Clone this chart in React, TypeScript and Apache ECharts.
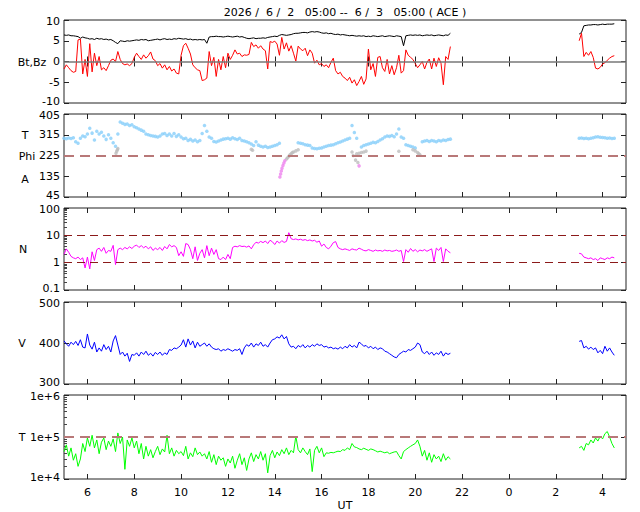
import React, { useEffect, useRef } from "react";
import * as echarts from "echarts";

const TITLE = "2026 /  6 /  2   05:00 --  6 /  3   05:00 ( ACE )";
const FONT = "DejaVu Sans";
const STEP = 0.1;
const SEG1_START = 5.0;
const SEG2_START = 27.0;
const X_MIN = 5;
const X_MAX = 29;
const X_TICKS = [6, 8, 10, 12, 14, 16, 18, 20, 22, 24, 26, 28];

const PHI_TICKS = [45, 135, 225, 315, 405];
const N_MINOR = [0.2, 0.3, 0.4, 0.5, 0.6, 0.7, 0.8, 0.9, 2, 3, 4, 5, 6, 7, 8, 9, 20, 30, 40, 50, 60, 70, 80, 90];
const T_MINOR = [20000, 30000, 40000, 50000, 60000, 70000, 80000, 90000, 200000, 300000, 400000, 500000, 600000, 700000, 800000, 900000];

const PHI_REF = [225];
const N_REF = [10, 1];
const T_REF = [100000];

const BZ_1 = [
  -1.8, -0.8, -1.5, -2.2, -2.6, -2.4, 5.2, 5.4, -3.0, 0.5,
  -3.6, 4.3, -2.5, 2.0, -1.0, 1.2, -2.0, -1.5, -2.2, -1.0,
  0.3, 0.6, 0.0, 2.4, 0.5, -0.5, -0.8, -0.6, -1.0, -0.5,
  1.0, 2.0, 1.2, 0.5, 1.6, 0.8, 1.4, 2.3, 0.6, 0.2,
  -1.0, -0.5, -1.6, -0.8, -2.0, -1.2, -2.3, -1.8, -2.8, -3.0,
  1.5, 3.8, 4.4, 3.2, 1.8, -0.8, -1.5, -2.0, -2.2, -4.6,
  -4.4, -4.0, 2.4, -1.0, 1.0, -3.6, 0.5, -2.0, 1.2, -1.5,
  2.0, 0.5, 1.5, 2.8, 1.8, 2.0, 1.2, 1.6, 1.5, 1.7,
  4.6, 3.6, 4.0, 3.2, 3.8, 3.0, 2.6, -1.8, 4.8, 4.6,
  4.9, 4.2, 1.5, 5.8, 3.0, 4.5, 2.5, 3.8, 2.0, 0.1,
  3.7, 3.0, 2.6, 3.2, 1.4, 2.8, 2.0, -0.4, 0.3, -0.8,
  -0.5, -1.2, -0.8, -1.5, -0.2, 0.8, -2.2, -3.0, -2.6, -3.6,
  -4.0, -4.6, -3.8, -5.2, -4.4, -5.8, -4.8, -3.6, -5.5, -4.2,
  3.0, -2.0, -0.5, -3.6, 1.0, 1.2, -1.5, -2.4, 0.5, -3.0,
  -1.0, -3.2, -1.5, 1.5, -2.8, -2.2, 2.8, 1.5, 1.0, 0.5,
  -0.5, -1.5, -0.8, 0.0, -1.8, -0.2, 0.6, -1.8, 0.8, -1.2,
  0.9, -0.4, -5.6, 1.2, 0.5, 3.6,
];
const BZ_2 = [5.0, 6.8, 1.2, 2.2, 1.5, 2.4, 1.0, -1.6, -1.8, -1.4, -0.6, -0.3, 0.3, 0.8, 1.2, 1.4];

const BT_1 = [
  6.4, 6.3, 6.4, 6.2, 6.2, 6.1, 6.0, 5.6, 5.9, 5.7,
  5.6, 5.4, 5.5, 5.3, 5.6, 5.4, 5.5, 5.3, 5.4, 5.2,
  5.3, 5.0, 4.6, 4.3, 5.0, 4.9, 4.8, 5.0, 4.9, 5.0,
  5.1, 5.2, 5.1, 5.3, 5.2, 5.3, 5.0, 5.1, 5.2, 5.3,
  5.4, 5.2, 5.4, 5.5, 5.3, 5.4, 5.3, 5.5, 5.4, 5.6,
  5.5, 5.4, 5.5, 5.3, 5.4, 5.2, 5.3, 5.2, 5.3, 5.2,
  5.3, 4.4, 5.9, 6.0, 6.0, 6.1, 6.0, 6.0, 5.9, 6.0,
  6.1, 6.0, 5.9, 6.0, 6.1, 5.9, 6.0, 5.8, 5.6, 5.5,
  5.6, 5.7, 5.5, 5.6, 5.6, 5.7, 5.6, 5.8, 5.9, 6.0,
  6.1, 6.0, 6.3, 6.5, 6.4, 6.3, 6.4, 6.5, 6.7, 6.8,
  6.8, 6.9, 7.0, 7.0, 6.9, 7.1, 7.2, 7.1, 7.2, 7.1,
  6.9, 6.8, 6.9, 6.7, 6.8, 6.6, 6.5, 6.6, 6.4, 6.5,
  6.4, 6.3, 6.2, 6.3, 6.2, 6.1, 6.2, 6.1, 6.2, 6.0,
  6.1, 6.0, 6.2, 6.1, 6.0, 6.1, 6.2, 6.0, 6.1, 6.2,
  6.1, 6.0, 6.2, 6.1, 6.0, 3.8, 6.2, 6.3, 6.4, 6.3,
  6.4, 6.3, 6.4, 6.2, 6.3, 6.4, 6.3, 6.4, 6.2, 6.3,
  6.4, 6.3, 6.2, 6.4, 6.3, 6.8,
];
const BT_2 = [6.6, 7.0, 8.6, 8.7, 8.8, 8.8, 8.9, 8.9, 8.8, 8.9, 9.0, 8.9, 9.0, 9.0, 9.0, 9.1];

const PHI_BLUE_1 = [
  300, 298, 301, 299, 302, 285, 278, 300, 310, 306,
  318, 343, 322, 292, 330, 318, 326, 310, 295, 315,
  300, 280, 265, 318, 370, 365, 360, 362, 355, 358,
  350, 345, 340, 335, 330, 318, 315, 312, 310, 308,
  305, 310, 318, 320, 312, 318, 310, 320, 308, 315,
  305, 298, 300, 290, 295, 288, 292, 285, 290, 320,
  355, 330, 305, 300, 286, 284, 288, 292, 296, 298,
  300, 296, 302, 298, 294, 300, 290, 288, 285, 280,
  275, 268, 285, 270, 265, 262, 265, 260, 262, 265,
  268, 272, 278, null, null, null, null, null, null, null,
  280, 278, 276, 272, 270, 268, 258, 255, 254, 256,
  258, 262, 265, 268, 270, 272, 276, 280, 284, 288,
  292, 296, 300, 355, 325, 300, null, 262, 268, 272,
  275, 278, 282, 280, 286, 292, 298, 305, 310, 308,
  312, 306, 318, 340, 305, 300, 272, 268, 265, 262,
  258, null, null, 285, 288, 290, 286, 290, 288, 285,
  290, 288, 292, 290, 294, 296,
];
const PHI_BLUE_2 = [300, 301, 299, 300, 298, 300, 302, 305, 306, 304, 303, 302, 300, 301, 299, 300];
const PHI_GRAY_T = [7.22, 7.25, 7.28, 7.3, 13.0, 13.05, 14.5, 14.55, 14.6, 14.65, 14.7, 14.75, 14.8, 14.9, 15.0, 17.3, 17.35, 17.45, 17.5, 17.55, 17.6, 17.7, 17.8, 17.9, 19.3, 19.9, 20.0, 20.1, 20.15, 20.2];
const PHI_GRAY_V = [235, 243, 250, 255, 252, 248, 210, 215, 222, 228, 232, 238, 240, 245, 250, 240, 225, 205, 232, 195, 235, 238, 240, 244, 243, 250, 245, 238, 232, 228];
const PHI_PINK_T = [14.22, 14.25, 14.28, 14.31, 14.35, 14.39, 14.43, 17.6];
const PHI_PINK_V = [132, 145, 158, 170, 182, 192, 202, 180];

const N_1 = [
  2.0, 3.2, 2.4, 1.7, 1.5, 1.4, 1.6, 1.3, 1.5, 0.64,
  1.6, 0.59, 2.5, 1.2, 3.0, 3.4, 2.6, 3.6, 2.2, 2.8,
  2.6, 4.3, 0.85, 3.0, 3.4, 3.0, 3.6, 3.2, 3.8, 3.3,
  4.0, 4.4, 3.6, 4.2, 3.5, 4.0, 3.2, 3.8, 2.8, 3.4,
  3.0, 3.6, 2.8, 3.9, 3.2, 4.6, 3.8, 4.2, 3.6, 1.8,
  2.5, 1.7, 5.0, 4.6, 3.0, 1.4, 3.8, 1.2, 2.2, 3.0,
  1.5, 4.2, 1.8, 3.4, 2.0, 3.0, 1.4, 1.3, 1.6, 1.3,
  2.0, 1.4, 3.6, 4.0, 3.8, 4.2, 3.9, 4.0, 3.7, 4.1,
  3.2, 4.5, 5.6, 5.2, 6.0, 5.4, 6.2, 5.0, 6.6, 5.8,
  4.6, 6.2, 5.2, 6.4, 5.5, 6.0, 12.5, 7.5, 7.0, 7.4,
  6.8, 7.2, 6.6, 7.0, 6.4, 6.8, 6.2, 6.6, 5.6, 6.2,
  4.0, 4.8, 3.6, 3.2, 4.0, 5.4, 5.9, 3.6, 3.2, 3.0,
  3.2, 3.0, 2.8, 3.2, 3.0, 2.9, 3.4, 3.1, 2.8, 2.7,
  3.0, 2.8, 2.6, 2.9, 2.7, 2.8, 2.6, 2.9, 2.7, 2.8,
  2.6, 2.7, 2.9, 2.6, 2.8, 1.1, 3.0, 2.4, 3.3, 2.6,
  3.0, 2.5, 2.9, 2.7, 3.0, 2.6, 2.9, 3.2, 1.1, 3.4,
  2.8, 3.6, 1.1, 3.2, 2.6, 2.3,
];
const N_2 = [2.2, 2.1, 1.6, 1.5, 1.4, 1.5, 1.3, 1.4, 1.2, 1.5, 1.4, 1.3, 1.5, 1.4, 1.6, 1.5];

const V_1 = [
  405, 398, 392, 402, 396, 404, 394, 408, 390, 388,
  422, 395, 385, 402, 378, 388, 380, 396, 384, 392,
  378, 405, 418, 395, 372, 378, 368, 375, 355, 372,
  370, 376, 368, 378, 372, 380, 370, 375, 368, 377,
  372, 378, 370, 376, 372, 384, 382, 388, 386, 390,
  395, 408, 390, 410, 395, 405, 388, 402, 392, 396,
  400, 392, 398, 390, 386, 384, 386, 380, 384, 382,
  386, 383, 380, 384, 382, 386, 372, 388, 396, 392,
  400, 390, 398, 394, 402, 392, 396, 390, 400, 408,
  410, 415, 412, 420, 410, 416, 398, 390, 392, 386,
  394, 390, 396, 388, 394, 390, 396, 392, 398, 394,
  396, 390, 392, 388, 390, 386, 388, 385, 390, 386,
  392, 388, 396, 390, 394, 388, 402, 398, 392, 394,
  388, 392, 386, 390, 384, 388, 386, 380, 378, 374,
  370, 366, 364, 372, 376, 380, 378, 384, 382, 386,
  390, 400, 396, 378, 374, 380, 372, 378, 370, 376,
  372, 380, 368, 376, 372, 375,
];
const V_2 = [404, 406, 388, 392, 385, 390, 384, 388, 376, 382, 374, 392, 380, 388, 378, 370];

const T_1 = [
  45000, 65000, 35000, 55000, 28000, 40000, 20000, 30000, 70000, 45000,
  95000, 60000, 110000, 55000, 85000, 40000, 75000, 95000, 50000, 80000,
  60000, 90000, 45000, 125000, 70000, 100000, 17000, 85000, 60000, 95000,
  55000, 80000, 40000, 70000, 30000, 60000, 35000, 50000, 32000, 45000,
  60000, 38000, 52000, 44000, 110000, 40000, 55000, 35000, 48000, 40000,
  45000, 36000, 60000, 30000, 42000, 34000, 55000, 38000, 44000, 35000,
  40000, 30000, 45000, 25000, 38000, 22000, 35000, 28000, 32000, 20000,
  30000, 24000, 35000, 18000, 28000, 40000, 22000, 32000, 16000, 30000,
  42000, 26000, 38000, 30000, 45000, 28000, 40000, 14000, 36000, 48000,
  32000, 44000, 36000, 50000, 40000, 55000, 38000, 48000, 42000, 105000,
  50000, 42000, 55000, 45000, 38000, 52000, 15000, 48000, 60000, 42000,
  55000, 34000, 42000, 41000, 43000, 42000, 44000, 46000, 45000, 50000,
  48000, 55000, 50000, 70000, 58000, 56000, 52000, 50000, 54000, 51000,
  48000, 52000, 50000, 47000, 44000, 46000, 44000, 42000, 44000, 40000,
  42000, 44000, 45000, 36000, 30000, 45000, 50000, 55000, 60000, 65000,
  70000, 85000, 60000, 35000, 48000, 28000, 42000, 25000, 38000, 30000,
  35000, 26000, 40000, 28000, 34000, 30000,
];
const T_2 = [55000, 60000, 48000, 70000, 65000, 85000, 72000, 95000, 80000, 105000, 90000, 120000, 135000, 100000, 70000, 55000];

function seg(start: number, vals: (number | null)[]) {
  const out: [number, number][] = [];
  vals.forEach((v, i) => {
    if (v !== null) out.push([Math.round((start + i * STEP) * 100) / 100, v]);
  });
  return out;
}
function pairs(ts: number[], vs: number[]) {
  return ts.map((t, i) => [t, vs[i]]);
}

const GRIDS = [
  { top: 20, height: 83 },
  { top: 114, height: 83 },
  { top: 208, height: 82 },
  { top: 302, height: 82 },
  { top: 395, height: 84 },
];

const labelStyle = { color: "#000", fontSize: 11, fontFamily: FONT };

function fmtNum(v: number) {
  return String(Number(v.toPrecision(6)));
}
function fmtExp(v: number) {
  return "1e+" + Math.round(Math.log10(v));
}
function edgeFmt(base: (v: number) => string, min: number, max: number) {
  return (v: number) => {
    const s = base(v);
    if (Math.abs(v - max) <= Math.abs(max) * 1e-6) return `{hi|${s}}`;
    if (Math.abs(v - min) <= Math.abs(min) * 1e-6) return `{lo|${s}}`;
    return s;
  };
}
const edgeRich = {
  hi: { padding: [3, 0, 0, 0], ...labelStyle },
  lo: { padding: [0, 0, 3, 0], ...labelStyle },
};

function buildOption() {
  const grid = GRIDS.map((g) => ({
    left: 64,
    right: 14,
    top: g.top,
    height: g.height,
    show: true,
    borderColor: "#222",
    borderWidth: 1,
  }));

  const xAxis: any[] = [];
  GRIDS.forEach((_, i) => {
    xAxis.push({
      type: "value",
      gridIndex: i,
      min: X_MIN,
      max: X_MAX,
      position: "bottom",
      axisLine: { show: false },
      axisTick: { show: true, inside: true, length: 5, customValues: X_TICKS, lineStyle: { color: "#222" } },
      axisLabel: {
        show: i === 4,
        customValues: X_TICKS,
        formatter: (v: number) => String(Math.round(v) % 24),
        margin: 8,
        ...labelStyle,
      },
      splitLine: { show: false },
    });
  });
  GRIDS.forEach((_, i) => {
    xAxis.push({
      type: "value",
      gridIndex: i,
      min: X_MIN,
      max: X_MAX,
      position: "top",
      axisLine: { show: false },
      axisTick: { show: true, inside: true, length: 5, customValues: X_TICKS, lineStyle: { color: "#222" } },
      axisLabel: { show: false },
      splitLine: { show: false },
    });
  });

  const ySpecs: any[] = [
    { type: "value", min: -10, max: 10, interval: 5, fmt: fmtNum },
    { type: "value", min: 45, max: 405, fmt: fmtNum, axisLabel: { customValues: PHI_TICKS }, axisTick: { customValues: PHI_TICKS } },
    { type: "log", logBase: 10, min: 0.1, max: 100, fmt: fmtNum },
    { type: "value", min: 300, max: 500, interval: 100, fmt: fmtNum },
    { type: "log", logBase: 10, min: 10000, max: 1000000, fmt: fmtExp },
  ];
  const yAxis: any[] = [];
  ySpecs.forEach((s, i) => {
    yAxis.push({
      type: s.type,
      logBase: s.logBase,
      gridIndex: i,
      min: s.min,
      max: s.max,
      interval: s.interval,
      position: "left",
      axisLine: { show: false },
      axisTick: { show: true, inside: true, length: 5, lineStyle: { color: "#222" }, ...(s.axisTick || {}) },
      axisLabel: {
        show: true,
        margin: 4,
        ...labelStyle,
        ...(s.axisLabel || {}),
        formatter: edgeFmt(s.fmt, s.min, s.max),
        rich: edgeRich,
      },
      splitLine: { show: false },
      minorTick: { show: false },
    });
  });
  ySpecs.forEach((s, i) => {
    yAxis.push({
      type: s.type,
      logBase: s.logBase,
      gridIndex: i,
      min: s.min,
      max: s.max,
      interval: s.interval,
      position: "right",
      axisLine: { show: false },
      axisTick: { show: true, inside: true, length: 5, lineStyle: { color: "#222" }, ...(s.axisTick || {}) },
      axisLabel: { show: false },
      splitLine: { show: false },
    });
  });
  [
    { g: 2, min: 0.1, max: 100, vals: N_MINOR },
    { g: 4, min: 10000, max: 1000000, vals: T_MINOR },
  ].forEach((m) => {
    yAxis.push({
      type: "log",
      logBase: 10,
      gridIndex: m.g,
      min: m.min,
      max: m.max,
      position: "left",
      axisLine: { show: false },
      axisTick: { show: true, inside: true, length: 3, customValues: m.vals, lineStyle: { color: "#444" } },
      axisLabel: { show: false },
      splitLine: { show: false },
    });
  });

  const line = (g: number, data: any[], color: string, extra: any = {}) => ({
    type: "line",
    xAxisIndex: g,
    yAxisIndex: g,
    data,
    showSymbol: false,
    symbol: "none",
    lineStyle: { color, width: 1 },
    itemStyle: { color },
    ...extra,
  });
  const scatter = (g: number, data: any[], color: string, extra: any = {}) => ({
    type: "scatter",
    xAxisIndex: g,
    yAxisIndex: g,
    data,
    symbolSize: 3.5,
    itemStyle: { color },
    ...extra,
  });
  const refLines = (vals: number[], color: string, width: number, dash: number[]) => ({
    silent: true,
    symbol: "none",
    label: { show: false },
    lineStyle: { color, width, type: dash },
    data: vals.map((v) => ({ yAxis: v })),
  });

  const series: any[] = [
    line(0, seg(SEG1_START, BT_1), "#000000", {
      markLine: { silent: true, symbol: "none", label: { show: false }, lineStyle: { color: "#777", width: 1.6, type: "solid" }, data: [{ yAxis: 0 }] },
    }),
    line(0, seg(SEG2_START, BT_2), "#000000"),
    line(0, seg(SEG1_START, BZ_1), "#ff0000", { z: 3 }),
    line(0, seg(SEG2_START, BZ_2), "#ff0000", { z: 3 }),

    scatter(1, seg(SEG1_START, PHI_BLUE_1), "#87cefa", { markLine: refLines(PHI_REF, "#b87878", 2, [10, 6]) }),
    scatter(1, seg(SEG2_START, PHI_BLUE_2), "#87cefa"),
    scatter(1, pairs(PHI_GRAY_T, PHI_GRAY_V), "#bdbdbd"),
    scatter(1, pairs(PHI_PINK_T, PHI_PINK_V), "#ee82ee"),

    line(2, seg(SEG1_START, N_1), "#ff00ff", { markLine: refLines(N_REF, "#8b1a1a", 1.2, [8, 5]) }),
    line(2, seg(SEG2_START, N_2), "#ff00ff"),

    line(3, seg(SEG1_START, V_1), "#0000ff"),
    line(3, seg(SEG2_START, V_2), "#0000ff"),

    line(4, seg(SEG1_START, T_1), "#00ff00", { markLine: refLines(T_REF, "#b87878", 2, [10, 6]) }),
    line(4, seg(SEG2_START, T_2), "#00ff00"),
  ];

  const txt = (text: string, x: number, y: number) => ({
    type: "text",
    x,
    y,
    style: {
      text,
      fill: "#000",
      font: `11px "${FONT}"`,
      textAlign: "center",
      textVerticalAlign: "middle",
    },
  });

  const graphic = [
    txt(TITLE, 345, 12),
    txt("Bt,Bz", 32, 62),
    txt("T", 25, 135),
    txt("Phi", 27, 156),
    txt("A", 25, 179),
    txt("N", 23, 249),
    txt("V", 22, 343),
    txt("T", 22, 437),
    txt("UT", 345, 505),
  ];

  return {
    animation: false,
    backgroundColor: "#fff",
    textStyle: { fontFamily: FONT },
    grid,
    xAxis,
    yAxis,
    series,
    graphic,
  };
}

export default function App() {
  const ref = useRef<HTMLDivElement>(null);
  useEffect(() => {
    if (!ref.current) return;
    const chart = echarts.init(ref.current, undefined, { renderer: "svg" });
    chart.setOption(buildOption() as any);
    return () => chart.dispose();
  }, []);
  return (
    <div
      ref={ref}
      style={{ position: "fixed", left: 0, top: 0, width: 640, height: 512, background: "#fff" }}
    />
  );
}
